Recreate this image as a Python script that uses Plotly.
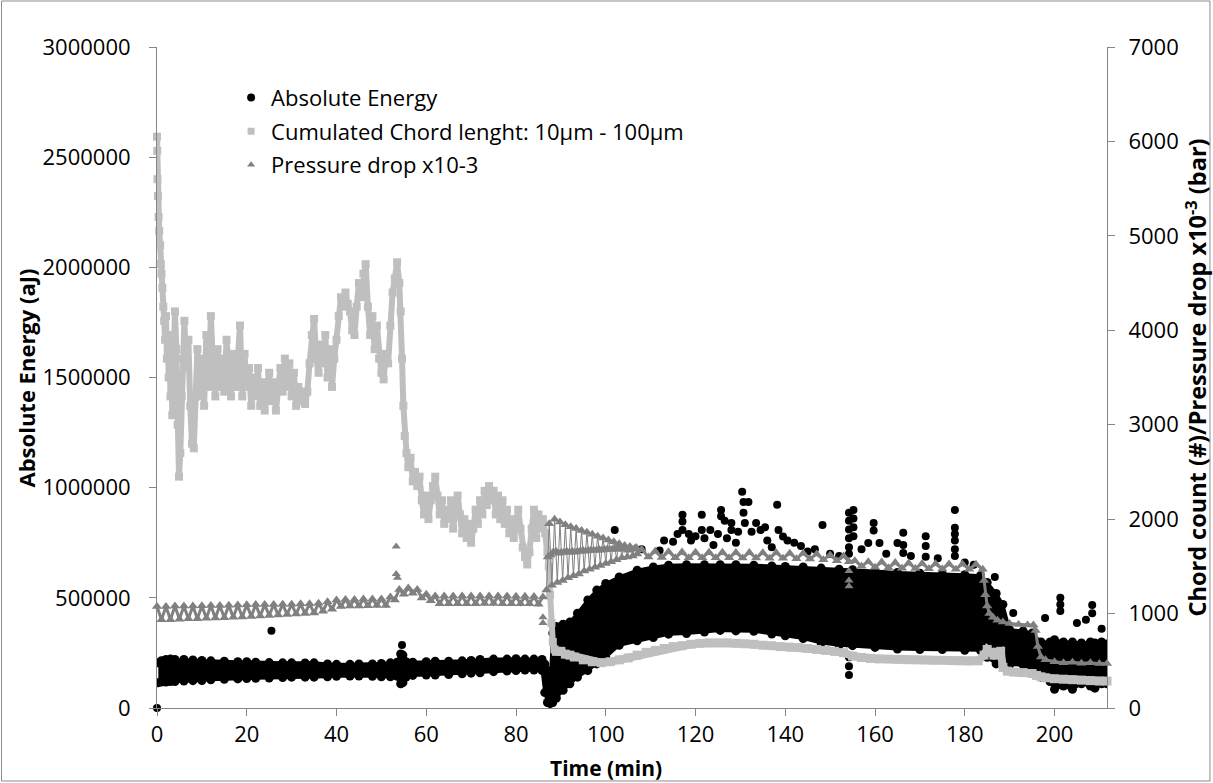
import plotly.graph_objects as go

# ---------------- Absolute Energy (aJ), left axis ----------------
# dense band: upper / lower envelope of the black point cloud
energy_t = [0.3, 1, 2, 3, 4, 6, 8, 10, 12, 15,
            18, 20, 22, 25, 28, 30, 33, 35, 38, 40,
            43, 45, 48, 50, 52, 53.5, 54.3, 54.8, 55.5, 57,
            60, 62, 65, 68, 70, 72, 75, 78, 80, 82,
            84, 85.8, 86.4, 87.0, 87.6, 88.2, 89.0, 90.5, 92, 93.7,
            96, 98, 100, 103, 107, 110.6, 114, 118, 122, 125.5,
            129, 133, 137, 140, 144, 148, 152, 155, 160, 165,
            170, 175, 180, 183.5, 185, 187, 188.5, 190, 193, 195,
            197, 199, 200, 202, 204, 206, 208, 209, 210.5, 211.7]
energy_hi = [205000, 215000, 220000, 222000, 220000, 220000, 218000, 216000, 214000, 212000,
             210000, 210000, 208000, 206000, 205000, 205000, 204000, 205000, 200000, 198000,
             198000, 200000, 200000, 202000, 205000, 208000, 245000, 240000, 210000, 208000,
             210000, 212000, 212000, 214000, 216000, 220000, 222000, 222000, 224000, 222000,
             222000, 220000, 200000, 170000, 130000, 340000, 370000, 380000, 390000, 430000,
             490000, 535000, 565000, 595000, 625000, 640000, 648000, 650000, 650000, 650000,
             650000, 648000, 645000, 642000, 640000, 635000, 630000, 628000, 622000, 615000,
             612000, 608000, 605000, 600000, 570000, 520000, 470000, 355000, 350000, 340000,
             300000, 300000, 310000, 300000, 300000, 295000, 300000, 295000, 300000, 290000]
energy_lo = [115000, 118000, 118000, 120000, 120000, 122000, 124000, 125000, 128000, 130000,
             132000, 134000, 135000, 136000, 138000, 140000, 140000, 140000, 142000, 144000,
             145000, 145000, 144000, 142000, 142000, 144000, 110000, 115000, 140000, 148000,
             150000, 150000, 152000, 155000, 158000, 160000, 165000, 168000, 170000, 172000,
             172000, 170000, 70000, 25000, 20000, 25000, 45000, 80000, 110000, 140000,
             170000, 200000, 230000, 285000, 305000, 320000, 335000, 338000, 345000, 352000,
             350000, 348000, 336000, 328000, 315000, 295000, 285000, 283000, 275000, 268000,
             265000, 265000, 262000, 262000, 230000, 200000, 195000, 196000, 196000, 165000,
             140000, 120000, 85000, 100000, 85000, 110000, 100000, 90000, 110000, 110000]

# isolated black points
energy_pts_t = [0, 25.5, 54.6, 102, 108, 112, 113, 115, 116, 117.1,
                117.1, 117.1, 118.5, 119, 120, 121.4, 121.4, 122, 123.3, 124,
                125, 125.7, 125.7, 126.5, 127, 128, 128, 129, 129.5, 130.4,
                130.7, 131.8, 130.7, 131, 132.5, 133.5, 134.5, 135.5, 136, 137,
                138.2, 138.5, 139.5, 140.5, 142, 143.5, 145, 146.6, 148.3, 150,
                152, 154.2, 154.2, 154.2, 154.2, 154.2, 154.2, 154.2, 154.2, 154.2,
                155.2, 155.2, 155.2, 155.2, 157, 158.5, 159.7, 159.7, 161, 162.5,
                165, 166.3, 166.3, 166.3, 168, 171.3, 171.3, 171.3, 174, 177.8,
                177.8, 177.8, 177.8, 177.8, 177.8, 180, 182, 186.7, 190.8, 197.9,
                201.3, 201.3, 201.3, 205, 207, 208.4, 208.4, 210.5]
energy_pts_v = [0, 351000, 286000, 808000, 720000, 715000, 760000, 755000, 790000, 877000,
                846000, 808000, 790000, 760000, 780000, 877000, 808000, 770000, 808000, 740000,
                790000, 899000, 870000, 850000, 770000, 840000, 808000, 750000, 800000, 981000,
                935000, 935000, 886000, 840000, 800000, 840000, 808000, 820000, 760000, 730000,
                922000, 808000, 778000, 760000, 750000, 735000, 710000, 720000, 830000, 700000,
                690000, 886000, 850000, 810000, 770000, 730000, 700000, 230000, 190000, 150000,
                899000, 860000, 820000, 780000, 720000, 749000, 840000, 806000, 749000, 700000,
                749000, 795000, 740000, 704000, 690000, 780000, 735000, 686000, 680000, 899000,
                818000, 790000, 760000, 720000, 690000, 660000, 650000, 595000, 431000, 409000,
                500000, 470000, 440000, 386000, 400000, 468000, 430000, 360000]

# ---------------- Cumulated chord length (#), right axis ----------------
chord_early_t = [0.0, 0.05, 0.1, 0.2, 0.35, 0.5, 0.7, 0.85, 1.0, 1.2,
                 1.4, 1.6, 1.8, 2.0, 2.2, 2.4, 2.6, 2.8, 3.0, 3.2,
                 3.4, 3.6, 3.8, 4.0, 4.3, 4.6, 4.9, 5.2, 5.5, 5.8,
                 6.1, 6.5, 7.0, 7.4, 7.8, 8.2, 8.6, 9.0, 9.5, 10.0,
                 10.5, 11.0, 11.5, 12.0, 12.5, 13.0, 13.5, 14.0, 14.5, 15.0,
                 15.5, 16.0, 16.5, 17.0, 17.5, 18.0, 18.5, 19.0, 19.5, 20.0,
                 20.5, 21.0, 21.5, 22.0, 22.5, 23.0, 23.5, 24.0, 24.5, 25.0,
                 25.5, 26.0, 26.5, 27.0, 27.5, 28.0, 28.5, 29.0, 29.5, 30.0,
                 30.5, 31.0, 31.5, 32.0, 32.5, 33.0, 33.5, 34.0, 34.5, 35.0,
                 35.5, 36.0, 36.5, 37.0, 37.5, 38.0, 38.5, 39.0, 39.5, 40.0,
                 40.5, 41.0, 41.5, 42.0, 42.5, 43.0, 43.5, 44.0, 44.5, 45.0,
                 45.5, 46.0, 46.5, 47.0, 47.5, 48.0, 48.5, 49.0, 49.5, 50.0,
                 50.5, 51.0, 51.5, 52.0, 52.5, 53.0, 53.5, 54.0, 54.3, 54.6,
                 54.9, 55.2, 55.6, 56.0, 56.5, 57.0, 57.5, 58.0, 58.5, 59.0,
                 59.5, 60.0, 60.5, 61.0, 61.5, 62.0, 62.5, 63.0, 63.5, 64.0,
                 64.5, 65.0, 65.5, 66.0, 66.5, 67.0, 67.5, 68.0, 68.5, 69.0,
                 69.5, 70.0, 70.5, 71.0, 71.5, 72.0, 72.5, 73.0, 73.5, 74.0,
                 74.5, 75.0, 75.5, 76.0, 76.5, 77.0, 77.5, 78.0, 78.5, 79.0,
                 79.5, 80.0, 80.5, 81.0, 81.5, 82.0, 82.5, 83.0, 83.5, 84.0,
                 84.5, 85.0, 85.5, 86.0, 86.5, 87.0, 87.3, 87.6, 87.9, 88.2,
                 88.6]
chord_early_v = [6050, 5900, 5600, 5420, 5200, 5050, 4900, 4700, 4600, 4450,
                 4250, 4100, 3900, 4150, 3700, 3950, 3500, 3800, 3300, 3700,
                 3100, 3600, 3900, 4200, 3800, 3000, 2450, 2700, 3300, 3700,
                 4100, 3600, 3900, 3200, 2800, 2750, 3300, 3800, 3300, 3700,
                 3200, 3950, 3400, 4150, 3600, 3300, 3800, 3400, 3700, 3350,
                 3900, 3500, 3300, 3750, 3400, 3700, 4050, 3300, 3750, 3400,
                 3600, 3200, 3500, 3300, 3600, 3200, 3450, 3150, 3400, 3550,
                 3250, 3450, 3150, 3400, 3600, 3350, 3700, 3400, 3650, 3300,
                 3550, 3200, 3400, 3250, 3350, 3220, 3350, 3650, 3950, 4120,
                 3700, 3550, 3850, 3650, 3950, 3500, 3800, 3400, 3700, 3900,
                 4150, 4350, 4250, 4400, 4280, 4200, 4000, 3950, 4250, 4500,
                 4350, 4600, 4700, 4250, 3950, 4150, 3800, 4050, 3700, 3550,
                 3480, 3750, 3650, 4050, 4400, 4550, 4720, 4500, 4200, 3700,
                 3200, 2880, 2700, 2550, 2650, 2400, 2500, 2350, 2450, 2200,
                 2050, 2250, 2000, 2200, 2350, 2450, 2250, 2050, 2200, 1950,
                 2100, 2000, 2200, 1900, 2100, 2250, 2050, 1850, 2000, 1800,
                 1950, 1750, 1900, 2100, 1950, 2200, 2050, 2300, 2150, 2350,
                 2200, 2300, 2050, 2250, 2000, 2200, 1950, 2100, 1850, 2000,
                 1800, 1950, 2100, 1900, 1700, 1600, 1520, 1650, 1900, 2100,
                 1800, 2050, 1900, 2000, 1850, 1650, 1500, 1200, 900, 700,
                 620]
chord_late_t = [89, 90, 91, 92, 93, 95, 97, 99, 101, 103,
                105, 107, 109, 111, 113, 115, 117, 119, 121, 123,
                125, 127, 129, 131, 133, 135, 137, 139, 141, 143,
                145, 147, 149, 151, 153, 155, 157, 159, 161, 163,
                165, 167, 169, 171, 173, 175, 177, 179, 181, 183,
                184.3, 185, 185.7, 186.5, 187.3, 188, 188.5, 189.5, 191, 193,
                195, 196, 197, 198, 200, 202, 204, 206, 208, 210,
                211.7]
chord_late_v = [600, 600, 570, 560, 540, 510, 490, 480, 490, 510,
                530, 560, 590, 610, 630, 650, 660, 675, 685, 690,
                690, 690, 685, 680, 675, 665, 660, 650, 645, 640,
                630, 620, 610, 600, 585, 550, 535, 525, 520, 518,
                515, 512, 510, 508, 505, 505, 502, 500, 498, 500,
                560, 620, 590, 560, 590, 600, 430, 390, 380, 375,
                365, 345, 330, 320, 310, 305, 300, 295, 290, 285,
                285]

# ---------------- Pressure drop x10-3 (bar), right axis ----------------
pressure_a_t = [0, 1, 2, 3, 4, 5, 6, 7, 8, 9,
                10, 11, 12, 13, 14, 15, 16, 17, 18, 19,
                20, 21, 22, 23, 24, 25, 26, 27, 28, 29,
                30, 31, 32, 33, 34, 35, 36, 37, 38, 39,
                40, 41, 42, 43, 44, 45, 46, 47, 48, 49,
                50, 51, 52, 53, 54, 55, 56, 57, 58, 59,
                60, 61, 62, 63, 64, 65, 66, 67, 68, 69,
                70, 71, 72, 73, 74, 75, 76, 77, 78, 79,
                80, 81, 82, 83, 84, 85, 86]
pressure_a_v = [1075, 935, 1075, 935, 1080, 940, 1080, 945, 1080, 945,
                1083, 950, 1085, 953, 1085, 955, 1087, 960, 1090, 963,
                1093, 970, 1095, 975, 1095, 980, 1097, 985, 1100, 990,
                1100, 995, 1103, 1000, 1105, 1005, 1110, 1025, 1125, 1045,
                1145, 1075, 1150, 1080, 1150, 1080, 1153, 1083, 1155, 1085,
                1155, 1085, 1175, 1145, 1255, 1205, 1270, 1215, 1255, 1165,
                1205, 1135, 1185, 1105, 1185, 1105, 1185, 1105, 1185, 1105,
                1185, 1105, 1187, 1107, 1187, 1107, 1185, 1105, 1185, 1105,
                1183, 1103, 1183, 1103, 1180, 1100, 1175]
pressure_cloud_t = [86.8, 87.1, 87.4, 87.7, 88.0, 88.3, 88.6, 88.9, 89.2, 89.5,
                    89.8, 90.1, 90.4, 90.7, 91.0, 91.3, 91.6, 91.9, 92.2, 92.5,
                    92.8, 93.1, 93.4, 93.7, 94.0, 94.3, 94.6, 94.9, 95.2, 95.5,
                    95.8, 96.1, 96.4, 96.7, 97.0, 97.3, 97.6, 97.9, 98.2, 98.5,
                    98.8, 99.1, 99.4, 99.7, 100.0, 100.3, 100.6, 100.9, 101.2, 101.5,
                    101.8, 102.1, 102.4, 102.7, 103.0, 103.3, 103.6, 103.9, 104.2, 104.5,
                    104.8, 105.1, 105.4, 105.7, 106.0, 106.4, 106.8]
pressure_cloud_v = [1250, 1600, 1950, 1620, 1300, 1650, 2000, 1660, 1330, 1640,
                    1970, 1650, 1350, 1650, 1940, 1660, 1380, 1650, 1920, 1660,
                    1400, 1650, 1900, 1660, 1420, 1660, 1880, 1670, 1450, 1660,
                    1860, 1670, 1470, 1670, 1840, 1670, 1490, 1670, 1820, 1680,
                    1510, 1670, 1800, 1680, 1530, 1680, 1780, 1680, 1550, 1680,
                    1760, 1690, 1570, 1680, 1740, 1690, 1590, 1680, 1720, 1690,
                    1600, 1670, 1710, 1680, 1610, 1690, 1700]
pressure_b_t = [107, 108, 109.5, 111, 112.5, 114, 115.5, 117, 118.5, 120,
                121.5, 123, 124.5, 126, 127.5, 129, 130.5, 132, 133.5, 135,
                136.5, 138, 139.5, 141, 142.5, 144, 145.5, 147, 148.5, 150,
                151.5, 153, 154.2, 155.5, 157, 158.5, 160, 161.5, 163, 164.5,
                166, 167.5, 169, 170.5, 172, 173.5, 175, 176.5, 178, 179.5,
                181, 182.5, 184, 184.3, 184.6, 185, 185.5, 186.3, 187.3, 188.5,
                190, 192, 194, 195.3, 195.8, 196.3, 197, 198, 200, 202,
                204, 206, 208, 210, 211.7]
pressure_b_v = [1630, 1680, 1600, 1660, 1595, 1655, 1592, 1652, 1590, 1650,
                1590, 1650, 1590, 1650, 1590, 1648, 1588, 1648, 1588, 1645,
                1585, 1645, 1585, 1640, 1580, 1640, 1578, 1632, 1570, 1620,
                1560, 1610, 1550, 1560, 1500, 1550, 1490, 1545, 1485, 1540,
                1480, 1535, 1478, 1530, 1475, 1528, 1472, 1525, 1470, 1525,
                1470, 1522, 1470, 1350, 1200, 1080, 1000, 960, 930, 910,
                895, 885, 880, 880, 820, 650, 540, 510, 490, 480,
                485, 475, 480, 470, 470]
pressure_pts_t = [53.3, 53.3, 53.6, 86.0, 86.0, 154.2, 154.2, 154.2]
pressure_pts_v = [1710, 1420, 1380, 960, 900, 1450, 1350, 1290]

# ---------------- labels ----------------
legend_names = ["Absolute Energy",
                "Cumulated Chord lenght: 10µm - 100µm",
                "Pressure drop x10-3"]
x_title = "Time (min)"
y_title = "Absolute Energy (aJ)"
y2_title = "Chord count (#)/Pressure drop x10<sup>-3</sup> (bar)"

BLACK = "#000000"
LIGHT = "#BFBFBF"
MID = "#808080"
AXIS = "#868686"
FONT = "Open Sans"

fig = go.Figure()

# Absolute energy band
fig.add_trace(go.Scatter(
    x=energy_t + energy_t[::-1], y=energy_hi + energy_lo[::-1],
    fill="toself", fillcolor=BLACK, mode="lines",
    line=dict(color=BLACK, width=3), showlegend=False, hoverinfo="skip"))
fig.add_trace(go.Scatter(x=energy_t, y=energy_hi, mode="markers",
                         marker=dict(color=BLACK, size=9), showlegend=False))
fig.add_trace(go.Scatter(x=energy_t, y=energy_lo, mode="markers",
                         marker=dict(color=BLACK, size=9), showlegend=False))
fig.add_trace(go.Scatter(x=energy_pts_t, y=energy_pts_v, mode="markers",
                         marker=dict(color=BLACK, size=8), showlegend=False,
                         cliponaxis=False))

# Chord length
fig.add_trace(go.Scatter(x=chord_early_t, y=chord_early_v, yaxis="y2",
                         mode="lines+markers", line=dict(color=LIGHT, width=6),
                         marker=dict(symbol="square", size=8, color=LIGHT),
                         showlegend=False, cliponaxis=False))
fig.add_trace(go.Scatter(x=chord_late_t, y=chord_late_v, yaxis="y2",
                         mode="lines+markers", line=dict(color=LIGHT, width=8),
                         marker=dict(symbol="square", size=9, color=LIGHT),
                         showlegend=False, cliponaxis=False))

# Pressure drop
fig.add_trace(go.Scatter(x=pressure_a_t, y=pressure_a_v, yaxis="y2",
                         mode="lines+markers", line=dict(color=MID, width=3),
                         marker=dict(symbol="triangle-up", size=9, color=MID),
                         showlegend=False, cliponaxis=False))
fig.add_trace(go.Scatter(x=pressure_cloud_t, y=pressure_cloud_v, yaxis="y2",
                         mode="lines+markers", line=dict(color=MID, width=1),
                         marker=dict(symbol="triangle-up", size=9, color=MID),
                         showlegend=False))
fig.add_trace(go.Scatter(x=pressure_b_t, y=pressure_b_v, yaxis="y2",
                         mode="lines+markers", line=dict(color=MID, width=3),
                         marker=dict(symbol="triangle-up", size=9, color=MID),
                         showlegend=False, cliponaxis=False))
fig.add_trace(go.Scatter(x=pressure_pts_t, y=pressure_pts_v, yaxis="y2",
                         mode="markers",
                         marker=dict(symbol="triangle-up", size=8, color=MID),
                         showlegend=False))

# legend entries
fig.add_trace(go.Scatter(x=[None], y=[None], mode="markers", name=legend_names[0],
                         marker=dict(color=BLACK, size=8), legendgroup="a"))
fig.add_trace(go.Scatter(x=[None], y=[None], mode="markers", name=legend_names[1],
                         marker=dict(color=LIGHT, size=7, symbol="square"), legendgroup="b"))
fig.add_trace(go.Scatter(x=[None], y=[None], mode="markers", name=legend_names[2],
                         marker=dict(color=MID, size=7, symbol="triangle-up"), legendgroup="c"))

axis_common = dict(showline=True, linecolor=AXIS, linewidth=1, ticks="outside",
                   ticklen=7, tickcolor=AXIS, showgrid=False, zeroline=False,
                   tickfont=dict(family=FONT, size=22, color="black"))

fig.update_layout(
    width=1213, height=783,
    margin=dict(l=157, r=106, t=47, b=75),
    paper_bgcolor="white", plot_bgcolor="white",
    font=dict(family=FONT, color="black"),
    xaxis=dict(range=[0, 211.7], tick0=0, dtick=20, **axis_common),
    yaxis=dict(range=[0, 3000000], tick0=0, dtick=500000, tickformat="d",
               ticklabelstandoff=14, **axis_common),
    yaxis2=dict(range=[0, 7000], tick0=0, dtick=1000, tickformat="d", overlaying="y",
                side="right", ticklabelstandoff=9, **axis_common),
    legend=dict(x=0.078, y=0.955, xanchor="left", yanchor="top",
                bgcolor="rgba(0,0,0,0)", font=dict(family=FONT, size=22, color="black"),
                tracegroupgap=2, itemsizing="trace"),
    annotations=[
        dict(text="<b>" + x_title + "</b>", xref="paper", yref="paper", x=0.4726, y=-0.0908,
             showarrow=False, xanchor="center", yanchor="middle",
             font=dict(family=FONT, size=21, color="black")),
        dict(text="<b>" + y_title + "</b>", xref="paper", yref="paper", x=-0.1379, y=0.5,
             textangle=-90, showarrow=False, xanchor="center", yanchor="middle",
             font=dict(family=FONT, size=22, color="black")),
        dict(text="<b>" + y2_title + "</b>", xref="paper", yref="paper", x=1.0937, y=0.5,
             textangle=-90, showarrow=False, xanchor="center", yanchor="middle",
             font=dict(family=FONT, size=23.5, color="black")),
    ],
    shapes=[dict(type="rect", xref="paper", yref="paper",
                 x0=-0.1637, x1=1.1084, y0=-0.1104, y1=1.0696,
                 line=dict(color="#8C8C8C", width=1), fillcolor="rgba(0,0,0,0)")],
    hovermode=False,
)

fig.write_html("out.html", config={"displayModeBar": False})
